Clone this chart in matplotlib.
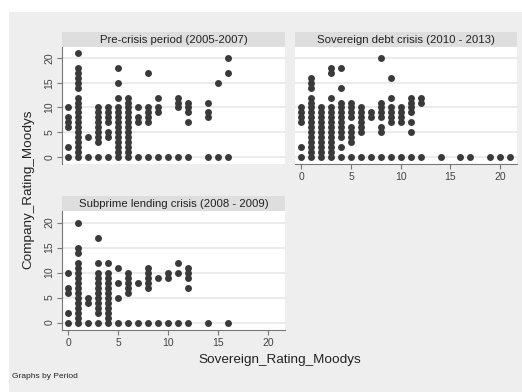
import matplotlib.pyplot as plt
from matplotlib.patches import Rectangle

plt.rcParams['font.family'] = ['Liberation Sans', 'DejaVu Sans']

# Company vs sovereign Moody's ratings, one column of company ratings per sovereign rating
pre_x = [0, 1, 2, 3, 4, 5, 6, 7, 8, 9, 10, 11, 12, 14, 15, 16]
pre_y = [
    [0, 2, 6, 7, 8, 10],
    [0, 1, 2, 3, 4, 5, 6, 7, 8, 9, 10, 11, 12, 14, 15, 16, 17, 18, 21],
    [0, 4],
    [0, 3, 4, 5, 6, 7, 8, 9, 10],
    [0, 4, 5, 7, 8, 9, 10],
    [0, 1, 2, 3, 4, 5, 6, 7, 8, 9, 10, 12, 15, 18],
    [0, 1, 2, 3, 4, 5, 6, 7, 8, 9, 10, 11, 12],
    [0, 7, 8, 10],
    [0, 7, 8, 9, 10, 17],
    [0, 9, 10, 12],
    [0],
    [0, 10, 11, 12],
    [0, 7, 9, 10, 11],
    [0, 8, 9, 11],
    [0, 15],
    [0, 17, 20],
]

debt_x = [0, 1, 2, 3, 4, 5, 6, 7, 8, 9, 10, 11, 12, 14, 16, 17, 19, 20, 21]
debt_y = [
    [0, 2, 7, 8, 9, 10],
    [0, 1, 2, 3, 4, 5, 6, 7, 8, 9, 10, 11, 12, 14, 15, 16],
    [0, 1, 2, 3, 4, 5, 6, 7, 8, 9, 10],
    [0, 1, 2, 3, 4, 5, 6, 7, 8, 9, 10, 12, 17, 18],
    [0, 2, 4, 5, 6, 7, 8, 9, 10, 11, 14, 18],
    [0, 3, 4, 5, 6, 8, 9, 10, 11],
    [0, 5, 6, 7, 8, 9, 10],
    [0, 8, 9],
    [0, 5, 6, 8, 9, 10, 11, 20],
    [0, 7, 8, 9, 10, 12, 16],
    [0, 7, 8, 9, 10],
    [0, 5, 7, 9, 10, 11, 12],
    [0, 11, 12],
    [0], [0], [0], [0], [0], [0],
]

sub_x = [0, 1, 2, 3, 4, 5, 6, 7, 8, 9, 10, 11, 12, 14, 16]
sub_y = [
    [0, 2, 6, 7, 10],
    [0, 1, 2, 3, 4, 5, 6, 7, 8, 9, 10, 11, 12, 14, 15, 20],
    [0, 4, 5],
    [0, 2, 3, 4, 5, 6, 7, 8, 9, 10, 12, 17],
    [0, 1, 2, 3, 4, 5, 6, 7, 8, 9, 10, 12],
    [0, 5, 8, 11],
    [0, 6, 7, 8, 9, 10],
    [0, 8],
    [0, 7, 8, 9, 10, 11],
    [0, 9],
    [0, 9, 10],
    [0, 10, 12],
    [0, 7, 9, 10, 11],
    [0],
    [0],
]

titles = ['Pre-crisis period (2005-2007)',
          'Sovereign debt crisis (2010 - 2013)',
          'Subprime lending crisis (2008 - 2009)']
ticks = [0, 5, 10, 15, 20]

W, H = 522, 392
fig = plt.figure(figsize=(W / 100, H / 100), dpi=100)
fig.patch.set_facecolor('white')
fig.patches.append(Rectangle((9 / W, 0), 1, 1 - 12 / H, transform=fig.transFigure,
                             facecolor='#eeeeee', edgecolor='none', zorder=-10))


def px_box(left, top, right, bottom):
    return [left / W, 1 - bottom / H, (right - left) / W, (bottom - top) / H]


def panel(box, strip_box, xs, ys, title, show_x, show_y):
    ax = fig.add_axes(box)
    ax.set_facecolor('white')
    px, py = [], []
    for x, col in zip(xs, ys):
        px += [x] * len(col)
        py += col
    ax.scatter(px, py, s=25, color='#3a3a3a', linewidths=0, zorder=3)
    ax.set_xlim(-0.65, 21.7)
    ax.set_ylim(-1.5, 22.3)
    ax.set_xticks(ticks)
    ax.set_yticks(ticks)
    for y in ticks:
        ax.axhline(y, color='#ebebeb', lw=1.4, zorder=1)
    for s in ax.spines.values():
        s.set_visible(False)
    ax.spines['left'].set_visible(show_y)
    ax.spines['bottom'].set_visible(show_x)
    for s in ('left', 'bottom'):
        ax.spines[s].set_color('#777777')
        ax.spines[s].set_linewidth(0.8)
    ax.tick_params(axis='x', bottom=show_x, labelbottom=show_x, length=3.5,
                   color='#777777', labelsize=7.5, labelcolor='#444444', pad=2)
    ax.tick_params(axis='y', left=show_y, labelleft=show_y, length=3.5,
                   color='#777777', labelsize=7.5, labelcolor='#444444', pad=2,
                   labelrotation=90)
    for lab in ax.get_yticklabels():
        lab.set_verticalalignment('center')

    sx = fig.add_axes(strip_box)
    sx.set_facecolor('#dedede')
    sx.set_xticks([])
    sx.set_yticks([])
    for s in sx.spines.values():
        s.set_visible(False)
    sx.text(0.5, 0.45, title, ha='center', va='center', fontsize=8.2, color='#222222',
            transform=sx.transAxes)
    return ax


panel(px_box(62, 47, 285, 164), px_box(62, 32, 285, 47), pre_x, pre_y, titles[0], False, True)
panel(px_box(295, 47, 517, 164), px_box(295, 32, 517, 47), debt_x, debt_y, titles[1], True, False)
panel(px_box(62, 211, 285, 330), px_box(62, 196, 285, 211), sub_x, sub_y, titles[2], True, True)

fig.text(28 / W, 1 - 189 / H, 'Company_Rating_Moodys', rotation=90, ha='center', va='center',
         fontsize=9.7, color='#222222')
fig.text(280 / W, 1 - 360 / H, 'Sovereign_Rating_Moodys', ha='center', va='center',
         fontsize=9.7, color='#222222')
fig.text(12 / W, 1 - 377 / H, 'Graphs by Period', ha='left', va='center',
         fontsize=6, color='#222222')

fig.savefig('out.png', dpi=100)
